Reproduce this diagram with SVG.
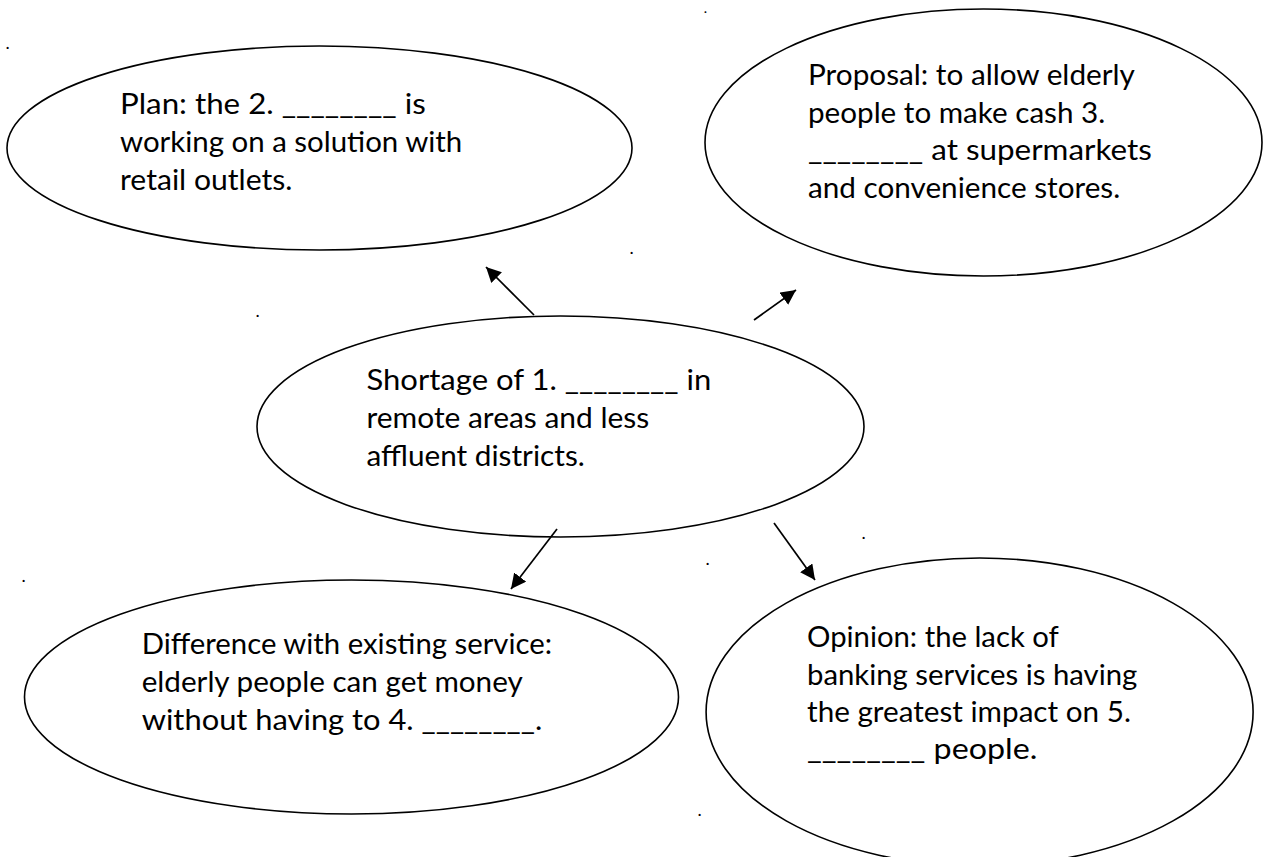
<svg xmlns="http://www.w3.org/2000/svg" width="1263" height="857" viewBox="0 0 1263 857">
  <style>
    .shape { fill: #ffffff; stroke: #000000; stroke-width: 1.6; }
    .label { font-family: Lato, "Open Sans", "Liberation Sans", sans-serif; font-size: 29px; fill: #000000; }
    .dot { font-family: Lato, "Liberation Sans", sans-serif; font-size: 18px; fill: #000000; }
    .dot-small { font-family: Lato, "Liberation Sans", sans-serif; font-size: 12px; font-weight: bold; fill: #000000; }
    .conn { stroke: #000000; stroke-width: 1.7; fill: none; }
  </style>
  <defs>
    <marker id="arrow" markerUnits="userSpaceOnUse" markerWidth="16" markerHeight="16" refX="15" refY="7.5" orient="auto">
      <path d="M0,0 L15,7.5 L0,15 z" fill="#000000"/>
    </marker>
  </defs>
  <rect x="0" y="0" width="1263" height="857" fill="#ffffff"/>

  <g id="stray-dots">
    <text class="dot" x="5.5" y="49">.</text>
    <text class="dot-small" x="704" y="13">.</text>
    <text class="dot" x="629.5" y="254">.</text>
    <text class="dot" x="255.5" y="317">.</text>
    <text class="dot" x="861.5" y="539">.</text>
    <text class="dot" x="705.5" y="565">.</text>
    <text class="dot" x="21.5" y="582">.</text>
    <text class="dot" x="697.5" y="816">.</text>
  </g>

  <g id="node-plan">
    <ellipse class="shape" cx="319.5" cy="148" rx="312.5" ry="102"/>
    <text class="label" x="120" y="114" textLength="305.7" lengthAdjust="spacingAndGlyphs">Plan: the 2. ________ is</text>
    <text class="label" x="120" y="152" textLength="342.3" lengthAdjust="spacingAndGlyphs">working on a solution with</text>
    <text class="label" x="120" y="190" textLength="172.4" lengthAdjust="spacingAndGlyphs">retail outlets.</text>
  </g>

  <g id="node-proposal">
    <ellipse class="shape" cx="983.5" cy="142.5" rx="278.5" ry="133.5"/>
    <text class="label" x="808" y="85" textLength="326.9" lengthAdjust="spacingAndGlyphs">Proposal: to allow elderly</text>
    <text class="label" x="808" y="122.5" textLength="297.2" lengthAdjust="spacingAndGlyphs">people to make cash 3.</text>
    <text class="label" x="808" y="160" textLength="343.8" lengthAdjust="spacingAndGlyphs">________ at supermarkets</text>
    <text class="label" x="808" y="197.5" textLength="312.2" lengthAdjust="spacingAndGlyphs">and convenience stores.</text>
  </g>

  <g id="node-shortage">
    <ellipse class="shape" cx="560.5" cy="426.5" rx="303.5" ry="110.5"/>
    <text class="label" x="366.5" y="390" textLength="344.8" lengthAdjust="spacingAndGlyphs">Shortage of 1. ________ in</text>
    <text class="label" x="366.5" y="428" textLength="282.7" lengthAdjust="spacingAndGlyphs">remote areas and less</text>
    <text class="label" x="366.5" y="466" textLength="218.3" lengthAdjust="spacingAndGlyphs">affluent districts.</text>
  </g>

  <g id="node-difference">
    <ellipse class="shape" cx="351.5" cy="697" rx="327" ry="117"/>
    <text class="label" x="141.7" y="654" textLength="410.4" lengthAdjust="spacingAndGlyphs">Difference with existing service:</text>
    <text class="label" x="141.7" y="692" textLength="381" lengthAdjust="spacingAndGlyphs">elderly people can get money</text>
    <text class="label" x="141.7" y="730" textLength="400.5" lengthAdjust="spacingAndGlyphs">without having to 4. ________.</text>
  </g>

  <g id="node-opinion">
    <ellipse class="shape" cx="979.6" cy="712" rx="273.5" ry="154"/>
    <text class="label" x="807" y="647" textLength="251.8" lengthAdjust="spacingAndGlyphs">Opinion: the lack of</text>
    <text class="label" x="807" y="685" textLength="330.3" lengthAdjust="spacingAndGlyphs">banking services is having</text>
    <text class="label" x="807" y="722" textLength="323.9" lengthAdjust="spacingAndGlyphs">the greatest impact on 5.</text>
    <text class="label" x="807" y="759" textLength="230.3" lengthAdjust="spacingAndGlyphs">________ people.</text>
  </g>

  <g id="connectors">
    <line class="conn" x1="534" y1="315" x2="486" y2="267" marker-end="url(#arrow)"/>
    <line class="conn" x1="754" y1="320" x2="796" y2="290" marker-end="url(#arrow)"/>
    <line class="conn" x1="557" y1="529" x2="511" y2="589" marker-end="url(#arrow)"/>
    <line class="conn" x1="774" y1="523" x2="815" y2="580" marker-end="url(#arrow)"/>
  </g>
</svg>
